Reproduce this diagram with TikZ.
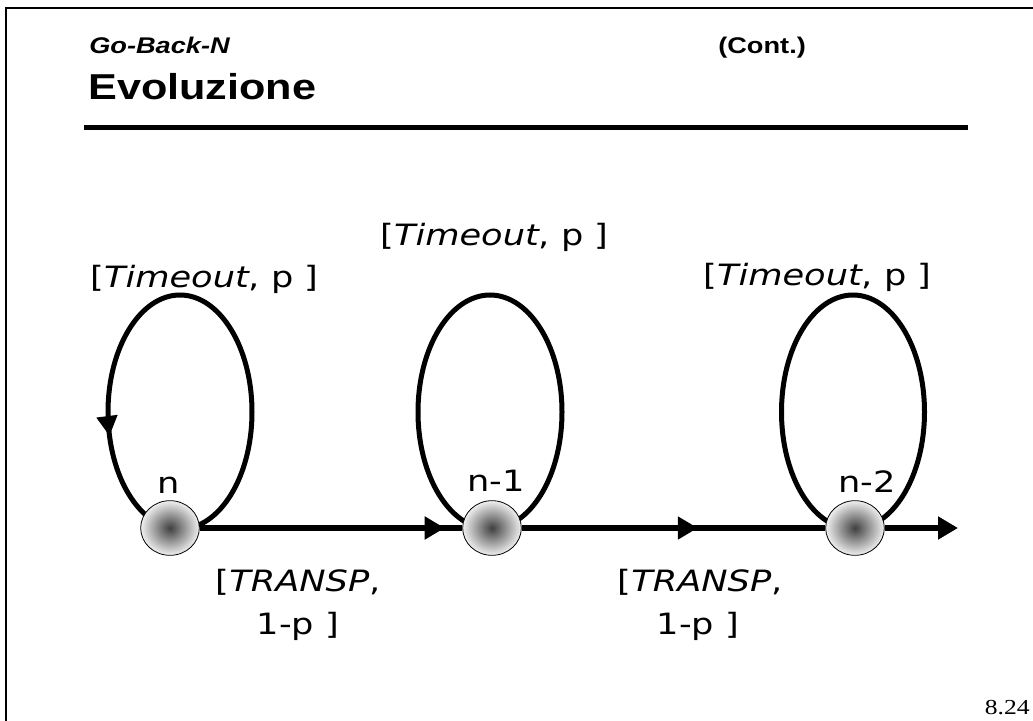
\documentclass[tikz,border=0pt]{standalone}
\usepackage{fontspec}
\newfontfamily\headfont[FakeStretch=1.2]{Liberation Sans}
\newfontfamily\lblfont[FakeStretch=1.2]{DejaVu Sans}
\newfontfamily\pagefont[FakeStretch=1.2]{Liberation Serif}
\usetikzlibrary{positioning,shapes.geometric,arrows.meta,decorations.markings,backgrounds}

\tikzset{
  state/.style={ellipse, draw, line width=0.6pt, minimum width=44pt, minimum height=41pt, inner sep=0pt,
    shading=radial, inner color=black!75, outer color=black!6},
  selfloop/.style={line width=3.75pt},
  flow/.style={line width=4.5pt},
  lbl/.style={inner sep=0pt, font=\lblfont\fontsize{22}{26}\selectfont},
  midarrow/.style={postaction={decorate}, decoration={markings,
    mark=at position #1 with {\arrow{Triangle[length=15pt,width=16.5pt]}}}},
  backarrow/.style={postaction={decorate}, decoration={markings,
    mark=at position #1 with {\arrowreversed{Triangle[length=15pt,width=15pt]}}}}
}

\begin{document}
\begin{tikzpicture}[x=0.75pt,y=0.75pt,yscale=-1,xscale=1]
\useasboundingbox (0,0) rectangle (1033,721);

%slide frame and rule
\draw[line width=1.5pt] (6,721) -- (6,8) -- (1033,8);
\draw[line width=3.75pt] (84,127) -- (968,127);

%titles
\node[anchor=base west, inner sep=0pt, font=\headfont\bfseries\itshape\fontsize{17}{20}\selectfont] (subtit) at (89,53) {Go-Back-N};
\node[anchor=base west, inner sep=0pt, font=\headfont\bfseries\fontsize{17}{20}\selectfont] (cont) at (718,53) {(Cont.)};
\node[anchor=base west, inner sep=0pt, font=\headfont\bfseries\fontsize{27}{30}\selectfont] (tit) at (88,99) {Evoluzione};

%states
\node[state] (sN) at (170,528) {};
\node[state] (sN1) at (492,528) {};
\node[state] (sN2) at (855,528) {};
\coordinate (sOut) at (958,528);

%self loops
\begin{scope}[on background layer]
\draw[selfloop, backarrow=0.46] (sN.center) ++(10,-116) ellipse [x radius=72, y radius=117];
\draw[selfloop] (sN1.center) ++(-2,-116) ellipse [x radius=72, y radius=117];
\draw[selfloop] (sN2.center) ++(-2,-116) ellipse [x radius=71.5, y radius=117];
\end{scope}

%transitions
\draw[flow, midarrow=0.933] (sN) -- (sN1);
\draw[flow, midarrow=0.58] (sN1) -- (sN2);
\draw[flow, -{Triangle[length=15pt,width=16.5pt]}] (sN2) -- (sOut);

%labels
\node[lbl, anchor=base] (labN) at (169,493) {n};
\node[lbl, anchor=base] (labN1) at (496,491) {n-1};
\node[lbl, anchor=base] (labN2) at (867,492) {n-2};
\node[lbl, anchor=base west] (toN) at (90,287) {[\textit{Timeout}, p ]};
\node[lbl, anchor=base west] (toN1) at (380,245) {[\textit{Timeout}, p ]};
\node[lbl, anchor=base west] (toN2) at (703,285) {[\textit{Timeout}, p ]};
\node[lbl, anchor=base] (trA) at (298,591) {[\textit{TRANSP},};
\node[lbl, anchor=base] (trA1) at (298,634) {1-p ]};
\node[lbl, anchor=base] (trB) at (700,591) {[\textit{TRANSP},};
\node[lbl, anchor=base] (trB1) at (698,634) {1-p ]};

%slide number
\node[anchor=base east, inner sep=0pt, font=\pagefont\fontsize{16}{18}\selectfont] (pg) at (1030,714) {8.24};
\end{tikzpicture}
\end{document}
